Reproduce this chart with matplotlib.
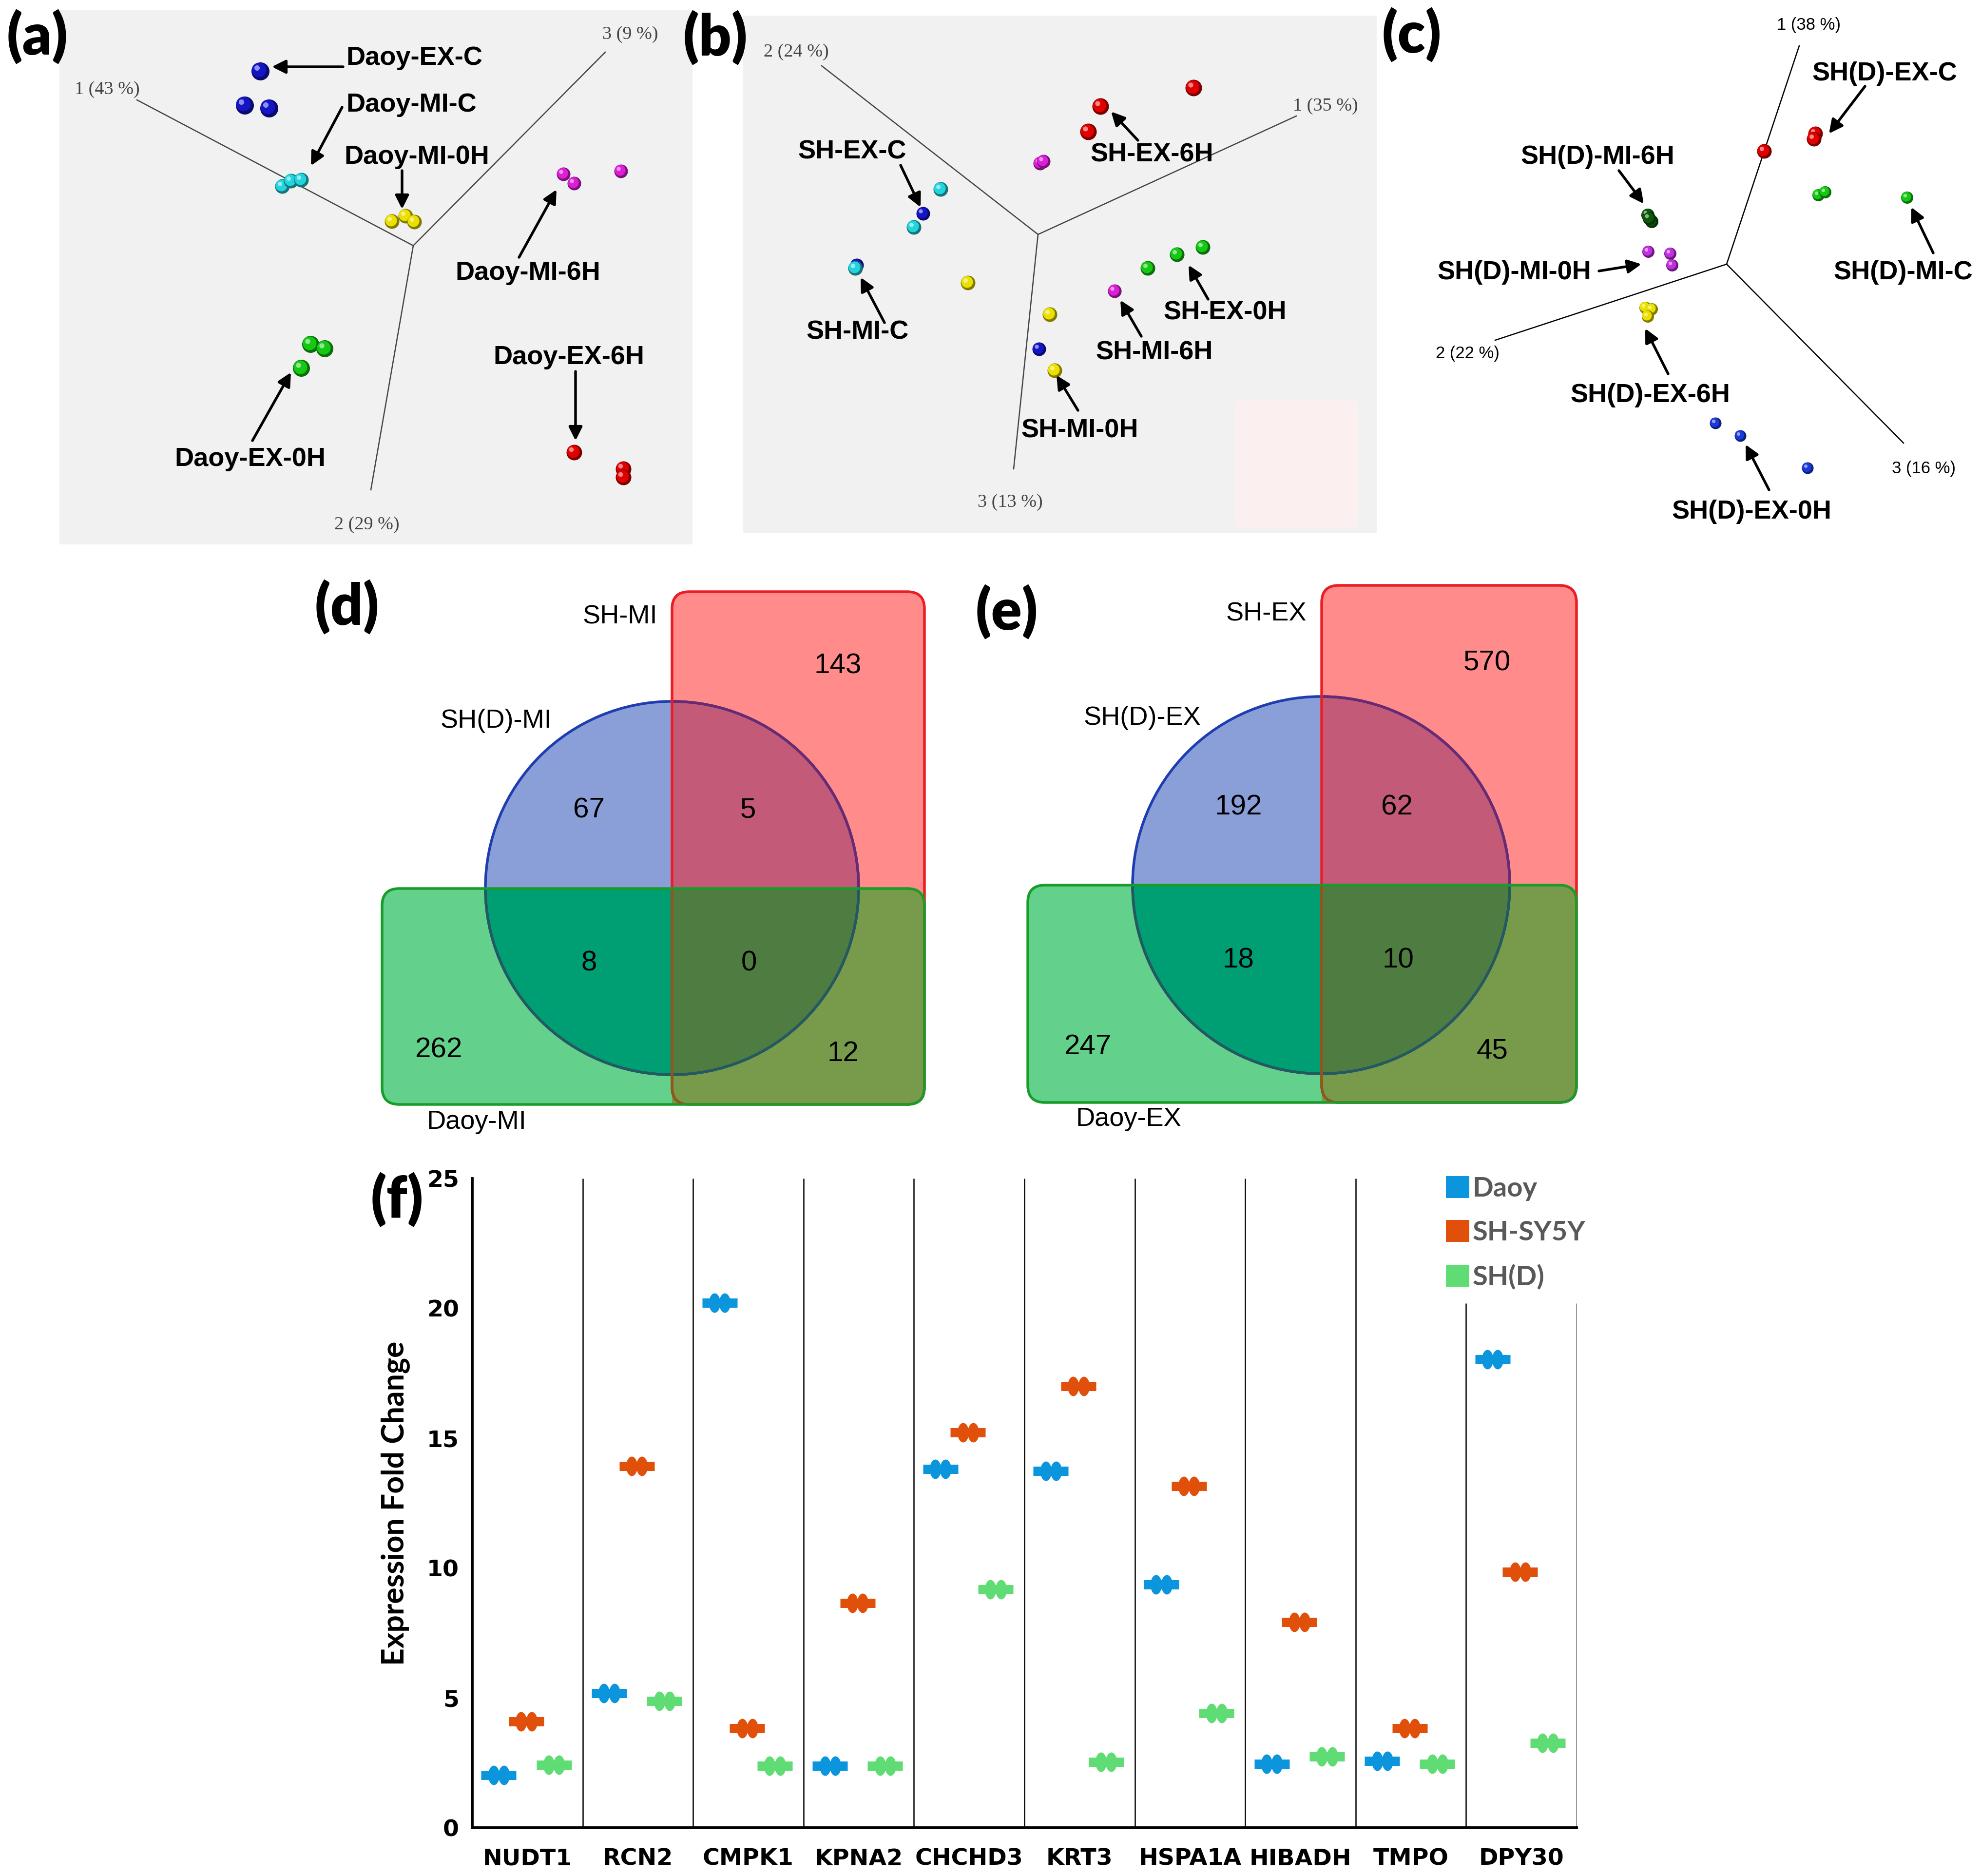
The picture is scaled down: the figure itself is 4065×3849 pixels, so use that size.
import numpy as np
import matplotlib.pyplot as plt
import matplotlib.colors as mcolors
from matplotlib.patches import Rectangle, Circle, FancyBboxPatch, Patch
from matplotlib.path import Path

W, H = 4065, 3849
DPI = 300
PX = 72 / DPI  # points per pixel

# ---------------- (a) Daoy PCA, scores in px from the plot origin (y up) ----------------
A_GROUPS = ['Daoy-EX-C', 'Daoy-MI-C', 'Daoy-MI-0H', 'Daoy-MI-6H', 'Daoy-EX-0H', 'Daoy-EX-6H']
A_X = [[-314, -346, -296], [-269, -251, -230], [-44, -16, 2], [308, 330, 426], [-211, -182, -230], [330, 431, 431]]
A_Y = [[358, 288, 282], [122, 133, 135], [50, 61, 49], [147, 128, 153], [-202, -211, -251], [-424, -458, -475]]
A_AXES = ['1 (43 %)', '2 (29 %)', '3 (9 %)']

# ---------------- (b) SH-SY5Y PCA ----------------
B_GROUPS = ['SH-EX-C', 'SH-MI-C', 'SH-MI-0H', 'SH-MI-6H', 'SH-EX-6H', 'SH-EX-0H']
B_X = [[-236, -372, 2], [-200, -255, -375], [-144, 24, 34], [4, 11, 157], [319, 128, 103], [225, 285, 338]]
B_Y = [[43, -63, -235], [93, 15, -69], [-99, -164, -279], [146, 150, -116], [301, 263, 211], [-69, -41, -26]]
B_AXES = ['2 (24 %)', '1 (35 %)', '3 (13 %)']

# ---------------- (c) SH(D) PCA ----------------
C_GROUPS = ['SH(D)-EX-C', 'SH(D)-MI-C', 'SH(D)-MI-6H', 'SH(D)-MI-0H', 'SH(D)-EX-6H', 'SH(D)-EX-0H']
C_X = [[77, 182, 179], [188, 202, 370], [-162, -154, -159], [-161, -116, -112], [-167, -154, -162], [-23, 28, 166]]
C_Y = [[232, 268, 257], [142, 148, 137], [101, 88, 94], [26, 22, -2], [-89, -92, -107], [-326, -352, -418]]
C_AXES = ['1 (38 %)', '2 (22 %)', '3 (16 %)']

# ---------------- (d), (e) Venn counts ----------------
# order: SH only, SH(D) only, SH&SH(D), SH(D)&Daoy, all three, Daoy only, SH&Daoy
D_COUNTS = [143, 67, 5, 8, 0, 262, 12]
D_NAMES = ['SH-MI', 'SH(D)-MI', 'Daoy-MI']
E_COUNTS = [570, 192, 62, 18, 10, 247, 45]
E_NAMES = ['SH-EX', 'SH(D)-EX', 'Daoy-EX']

# ---------------- (f) expression fold change ----------------
GENES = ['NUDT1', 'RCN2', 'CMPK1', 'KPNA2', 'CHCHD3', 'KRT3', 'HSPA1A', 'HIBADH', 'TMPO', 'DPY30']
DAOY = [2.03, 5.18, 20.21, 2.38, 13.81, 13.74, 9.37, 2.46, 2.57, 18.04]
SHSY5Y = [4.09, 13.93, 3.83, 8.65, 15.22, 17.0, 13.16, 7.92, 3.83, 9.85]
SHD = [2.42, 4.88, 2.38, 2.38, 9.18, 2.53, 4.41, 2.74, 2.46, 3.27]
SERIES = ['Daoy', 'SH-SY5Y', 'SH(D)']

fig = plt.figure(figsize=(W / DPI, H / DPI), dpi=DPI)


def fbox(x0, y0, x1, y1):
    return [x0 / W, 1 - y1 / H, (x1 - x0) / W, (y1 - y0) / H]


def pca_panel(box, origin, face):
    x0, y0, x1, y1 = box
    ox, oy = origin
    ax = fig.add_axes(fbox(x0, y0, x1, y1))
    ax.set_xlim(x0 - ox, x1 - ox)
    ax.set_ylim(oy - y1, oy - y0)
    ax.set_facecolor(face)
    ax.set_xticks([])
    ax.set_yticks([])
    for s in ax.spines.values():
        s.set_visible(False)
    return ax


def spheres(ax, xs, ys, color, d):
    c = np.array(mcolors.to_rgb(color))
    z = 3
    for x, y in zip(xs, ys):
        ax.scatter([x], [y], s=(d * PX) ** 2, color=c * 0.55, lw=0, zorder=z)
        ax.scatter([x - 0.07 * d], [y + 0.07 * d], s=(0.8 * d * PX) ** 2, color=c, lw=0, zorder=z + 0.01)
        ax.scatter([x - 0.18 * d], [y + 0.18 * d], s=(0.3 * d * PX) ** 2,
                   color=c * 0.4 + 0.6, lw=0, zorder=z + 0.02, alpha=0.9)
        z += 0.1


def pca(ax, xs, ys, colors, sizes, ends, axnames, axpos, axfont, axcolor, groups, txt, arrows):
    for (ex, ey) in ends:
        ax.plot([0, ex], [0, ey], color=axcolor, lw=0.6, zorder=2)
    for name, (tx, ty) in zip(axnames, axpos):
        ax.text(tx, ty, name, ha='center', va='center', color=axcolor, **axfont)
    for gx, gy, c, d in zip(xs, ys, colors, sizes):
        spheres(ax, gx, gy, c, d)
    for g, (tx, ty), (tail, head) in zip(groups, txt, arrows):
        ax.annotate('', xy=head, xytext=tail,
                    arrowprops=dict(arrowstyle='-|>', color='black', lw=1.3,
                                    mutation_scale=14, shrinkA=0, shrinkB=0), zorder=6)
        ax.text(tx, ty, g, ha='center', va='center', fontsize=13, fontweight='bold',
                family='Liberation Sans', zorder=7)


serif = dict(family='Liberation Serif', fontsize=9.2)
sans = dict(family='Liberation Sans', fontsize=8.3)

# (a)
ax_a = pca_panel((122, 20, 1421, 1117), (848, 504), '#f1f1f1')
pca(ax_a, A_X, A_Y,
    ['#1414c8', '#22d4de', '#ece000', '#dc1ed8', '#14c814', '#e00000'],
    [37, 30, 30, 28, 35, 32],
    [(-567, 299), (-87, -501), (394, 397)], A_AXES,
    [(-628, 320), (-95, -573), (445, 433)], serif, '#444444',
    A_GROUPS,
    [(2, 385), (-4, 289), (7, 182), (235, -56), (-335, -438), (319, -229)],
    [((-144, 367), (-290, 367)), ((-146, 284), (-210, 164)), ((-23, 154), (-23, 75)),
     ((217, -24), (294, 115)), ((-330, -400), (-251, -260)), ((333, -258), (333, -400))])

# (b)
ax_b = pca_panel((1524, 32, 2825, 1094), (2130, 481), '#f1f1f1')
ax_b.add_patch(Rectangle((404, -600), 252, 259, fc='#fcefef', ec='none', zorder=1))
pca(ax_b, B_X, B_Y,
    ['#1414c8', '#22d4de', '#ece000', '#dc1ed8', '#e00000', '#14c814'],
    [28, 30, 30, 28, 34, 30],
    [(-444, 346), (530, 243), (-50, -481)], B_AXES,
    [(-496, 374), (590, 263), (-57, -550)], serif, '#444444',
    B_GROUPS,
    [(-381, 170), (-370, -200), (86, -402), (239, -243), (234, 164), (384, -160)],
    [((-282, 142), (-241, 56)), ((-315, -181), (-364, -88)), ((82, -361), (38, -289)),
     ((212, -209), (169, -135)), ((205, 193), (150, 252)), ((349, -133), (309, -63))])

# (c)
ax_c = pca_panel((2826, 0, 4065, 1130), (3543, 542), 'white')
pca(ax_c, C_X, C_Y,
    ['#e00000', '#14c814', '#0a5a0a', '#c030e0', '#ece000', '#1a3adc'],
    [30, 25, 27, 25, 25, 24],
    [(149, 448), (-475, -156), (363, -367)], C_AXES,
    [(168, 490), (-532, -184), (405, -419)], sans, 'black',
    C_GROUPS,
    [(324, 391), (362, -17), (-265, 220), (-436, -17), (-157, -269), (51, -508)],
    [((284, 365), (210, 268)), ((424, 23), (379, 117)), ((-221, 192), (-170, 124)),
     ((-262, -14), (-175, 0)), ((-120, -225), (-167, -132)), ((87, -463), (39, -370))])

# ---------------- Venn diagrams on an overlay in pixel units ----------------
ov = fig.add_axes([0, 0, 1, 1])
ov.set_xlim(0, W)
ov.set_ylim(H, 0)
ov.axis('off')

C_R, C_B, C_G = '#ff8b8b', '#8a9fd8', '#63d08b'
C_RB, C_BG, C_RG, C_RGB = '#c25a78', '#009e73', '#779a4b', '#4f7c41'
E_R, E_G, E_B = '#ec1c24', '#1a9c2a', '#1e3eb0'
E_RB, E_BG, E_RG = '#6a2a72', '#245a5e', '#8a5a1c'
LW = 1.3
OFFS = [(340, -456), (-170, -160), (156, -160), (-170, 154), (158, 154), (-479, 332), (351, 340)]


def rbox(b, **kw):
    x0, y0, x1, y1 = b
    return FancyBboxPatch((x0, y0), x1 - x0, y1 - y0,
                          boxstyle='round,pad=0,rounding_size=35', **kw)


def venn(cx, cy, r, red, green, counts, names):
    rx0, ry0, rx1, ry1 = red
    gx0, gy0, gx1, gy1 = green
    red_p = rbox(red, fc=C_R, ec='none', zorder=1)
    ov.add_patch(red_p)
    green_p = rbox(green, fc=C_G, ec='none', zorder=2)
    ov.add_patch(green_p)
    rg = Rectangle((rx0, gy0), rx1 - rx0, gy1 - gy0, fc=C_RG, ec='none', zorder=3)
    ov.add_patch(rg)
    rg.set_clip_path(green_p)
    circ = Circle((cx, cy), r, fc=C_B, ec='none', zorder=4)
    ov.add_patch(circ)
    top = cy - r - 20
    for (x, y, w, h, c) in [(rx0, top, r + 40, gy0 - top, C_RB),
                            (cx - r - 20, gy0, rx0 - (cx - r - 20), r + 40, C_BG),
                            (rx0, gy0, r + 40, r + 40, C_RGB)]:
        p = Rectangle((x, y), w, h, fc=c, ec='none', zorder=5)
        ov.add_patch(p)
        p.set_clip_path(circ)
    ov.add_patch(Circle((cx, cy), r, fill=False, ec=E_B, lw=LW, zorder=6))
    for (x, y, w, h, c) in [(rx0, top, r + 40, gy0 - top, E_RB),
                            (cx - r - 20, gy0, 2 * r + 40, r + 40, E_BG)]:
        clip = Rectangle((x, y), w, h, transform=ov.transData)
        ring = Circle((cx, cy), r, fill=False, ec=c, lw=LW, zorder=6.5)
        ov.add_patch(ring)
        ring.set_clip_path(clip)
    ov.add_patch(rbox(red, fill=False, ec=E_R, lw=LW, zorder=7))
    red_e2 = rbox(red, fill=False, ec=E_RG, lw=LW, zorder=7.5)
    ov.add_patch(red_e2)
    red_e2.set_clip_path(Rectangle((gx0, gy0 + 4), gx1 - gx0, gy1 - gy0 - 8, transform=ov.transData))
    ov.add_patch(rbox(green, fill=False, ec=E_G, lw=LW, zorder=8))
    for n, (dx, dy) in zip(counts, OFFS):
        ov.text(cx + dx, cy + dy, str(n), ha='center', va='center', fontsize=14,
                family='Liberation Sans', zorder=9)
    ov.text(cx - 30, cy - 556, names[0], ha='right', va='center', fontsize=13, family='Liberation Sans')
    ov.text(cx - 247, cy - 343, names[1], ha='right', va='center', fontsize=13, family='Liberation Sans')
    ov.text(cx - 503, cy + 480, names[2], ha='left', va='center', fontsize=13, family='Liberation Sans')


venn(1379, 1822, 383, (1379, 1214, 1897, 2266), (784, 1823, 1897, 2266), D_COUNTS, D_NAMES)
venn(2711, 1816, 387, (2712, 1201, 3235, 2262), (2109, 1816, 3235, 2262), E_COUNTS, E_NAMES)

# ---------------- (f) ----------------
ax = fig.add_axes(fbox(969, 2418, 3235, 3750))
cols = ['#0b95dd', '#e0500a', '#5fdc73']
offsets = [-0.26, -0.01, 0.24]
t = np.linspace(0, 2 * np.pi, 40)
bump = Path(np.column_stack([0.58 * np.cos(t), np.sin(t)]), closed=True)
x = np.arange(len(GENES)) + 0.5
for vals, c, off in zip([DAOY, SHSY5Y, SHD], cols, offsets):
    ax.plot(x + off, vals, ls='none', marker='_', ms=72 * PX, mew=19 * PX, color=c, zorder=3)
    for dx in (-0.047, 0.047):
        ax.plot(x + off + dx, vals, ls='none', marker=bump, ms=40 * PX, mew=0, color=c, zorder=3)

ax.vlines(np.arange(1, 11), 0, [25] * 8 + [20.2, 20.2], color='black', lw=0.6, zorder=1)
ax.set_xlim(0, 10)
ax.set_ylim(0, 25)
ax.set_yticks([0, 5, 10, 15, 20, 25])
ax.set_xticks(x)
ax.set_xticklabels(GENES)
tick_font = dict(family='DejaVu Sans', weight='bold', size=11.4)
for lab in ax.get_xticklabels() + ax.get_yticklabels():
    lab.set_fontproperties(tick_font)
ax.tick_params(length=0)
ax.tick_params(axis='x', pad=10)
ax.tick_params(axis='y', pad=6.5)
for s in ['top', 'right']:
    ax.spines[s].set_visible(False)
ax.spines['left'].set_linewidth(1.4)
ax.spines['bottom'].set_linewidth(1.4)
ax.set_ylabel('Expression Fold Change', family='Lato', weight='bold', fontsize=15)
ax.yaxis.set_label_coords(-0.0565, 0.5)

handles = [Patch(facecolor=c, edgecolor='none', label=l) for c, l in zip(cols, SERIES)]
ax.legend(handles=handles, loc='upper left', bbox_to_anchor=((2967 - 969) / 2266, 1.004),
          frameon=False, prop=dict(family='Lato', weight='bold', size=13.5), labelcolor='#595959',
          handlelength=0.85, handleheight=0.85, handletextpad=0.12, labelspacing=0.7,
          borderpad=0, borderaxespad=0)

# panel letters
for lbl, (px, py) in zip(['(a)', '(b)', '(c)', '(d)', '(e)', '(f)'],
                         [(77, 76), (1468, 77), (2897, 72), (712, 1245), (2066, 1256), (815, 2462)]):
    fig.text(px / W, 1 - py / H, lbl, ha='center', va='center', family='Lato',
             weight='heavy', fontsize=28)

fig.savefig('out.png', dpi=DPI)
